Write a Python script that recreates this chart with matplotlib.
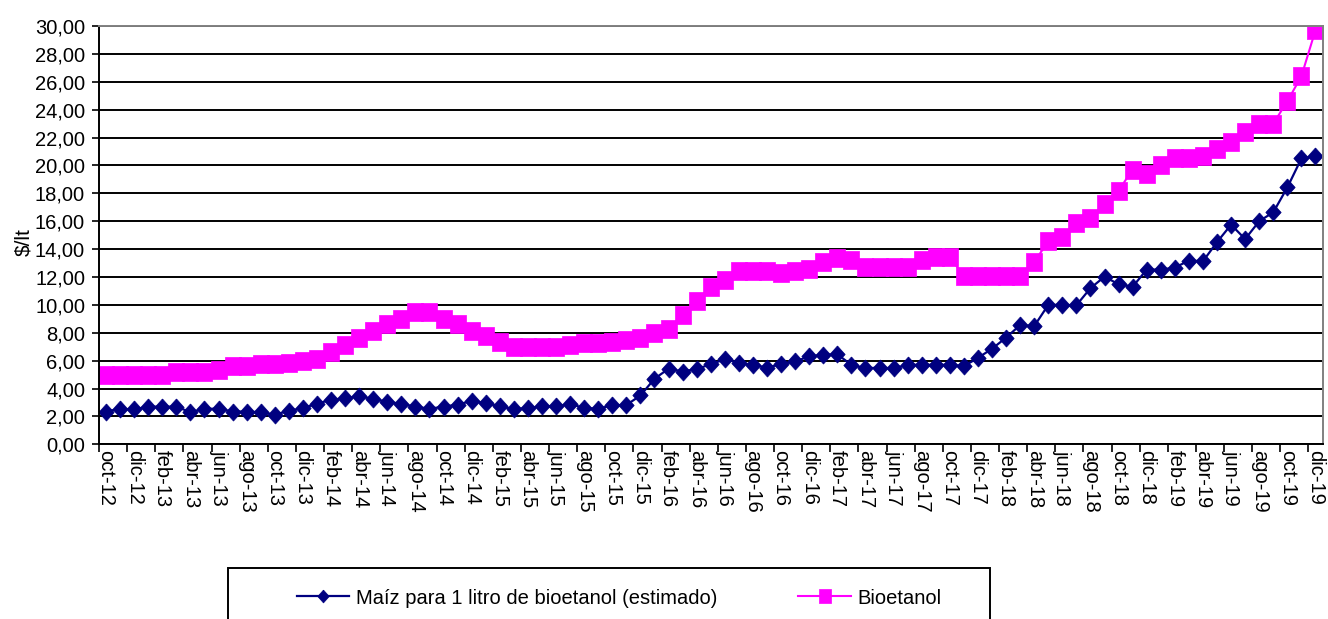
import matplotlib
matplotlib.use('Agg')
import matplotlib.pyplot as plt
from matplotlib.patches import Rectangle
from matplotlib.ticker import FuncFormatter

plt.rcParams['font.family'] = ['Liberation Sans', 'DejaVu Sans']

# Monthly categories oct-12 .. dic-19
month_names = ['ene', 'feb', 'mar', 'abr', 'may', 'jun',
               'jul', 'ago', 'sep', 'oct', 'nov', 'dic']
months = ['%s-%02d' % (month_names[(9 + i) % 12], 12 + (9 + i) // 12)
          for i in range(87)]

label_maiz = 'Maíz para 1 litro de bioetanol (estimado)'
label_bio = 'Bioetanol'

maiz = [
    2.35, 2.55, 2.50, 2.70, 2.70, 2.70, 2.30, 2.55, 2.55, 2.35,
    2.35, 2.30, 2.12, 2.40, 2.60, 2.90, 3.20, 3.30, 3.45, 3.25,
    3.05, 2.90, 2.70, 2.55, 2.70, 2.85, 3.10, 2.95, 2.72, 2.52,
    2.60, 2.72, 2.72, 2.90, 2.60, 2.55, 2.80, 2.82, 3.50, 4.70,
    5.42, 5.22, 5.40, 5.74, 6.10, 5.85, 5.70, 5.50, 5.74, 5.95,
    6.30, 6.42, 6.45, 5.70, 5.45, 5.50, 5.45, 5.70, 5.70, 5.70,
    5.70, 5.60, 6.20, 6.85, 7.65, 8.55, 8.47, 10.00, 10.00, 9.97,
    11.20, 12.02, 11.48, 11.30, 12.53, 12.53, 12.67, 13.18, 13.13, 14.50,
    15.75, 14.72, 16.00, 16.64, 18.42, 20.50, 20.66,
]

bioetanol = [
    4.95, 4.95, 4.95, 4.95, 4.95, 5.15, 5.15, 5.20, 5.30, 5.60,
    5.65, 5.75, 5.75, 5.85, 5.95, 6.10, 6.65, 7.15, 7.65, 8.15,
    8.65, 9.00, 9.50, 9.50, 9.00, 8.65, 8.15, 7.80, 7.32, 6.98,
    6.98, 6.98, 7.00, 7.15, 7.30, 7.30, 7.32, 7.45, 7.60, 7.95,
    8.25, 9.30, 10.30, 11.30, 11.78, 12.45, 12.45, 12.45, 12.25, 12.40,
    12.57, 13.10, 13.37, 13.23, 12.75, 12.75, 12.75, 12.75, 13.25, 13.40,
    13.40, 12.10, 12.10, 12.10, 12.10, 12.10, 13.08, 14.55, 14.90, 15.86,
    16.23, 17.22, 18.20, 19.70, 19.40, 20.00, 20.55, 20.55, 20.70, 21.20,
    21.70, 22.40, 23.00, 23.00, 24.60, 26.40, 29.70,
]

navy = '#000080'
magenta = '#FF00FF'

# Excel-like markers (slightly taller than wide)
diamond = [(0, 1), (0.9, 0), (0, -1), (-0.9, 0), (0, 1)]
square = [(-0.85, -1), (0.85, -1), (0.85, 1), (-0.85, 1), (-0.85, -1)]

W, H = 1328, 619
fig = plt.figure(figsize=(W / 100, H / 100), dpi=100)
ax = fig.add_axes([99 / W, (H - 444.3) / H, (1322.5 - 99) / W, (444.3 - 26) / H])

x = list(range(len(months)))
ax.plot(x, maiz, color=navy, lw=1.6, marker=diamond, ms=12.3,
        mfc=navy, mec=navy, mew=0.5, label=label_maiz)
ax.plot(x, bioetanol, color=magenta, lw=1.5, marker=square, ms=12.8,
        mfc=magenta, mec=magenta, mew=0.5, label=label_bio)

ax.set_xlim(-0.5, len(months) - 0.5)
ax.set_ylim(0, 30)

# y axis
ax.set_yticks(range(0, 31, 2))
ax.yaxis.set_major_formatter(FuncFormatter(lambda v, p: ('%.2f' % v).replace('.', ',')))
ax.yaxis.grid(True, color='black', lw=1.4)
ax.set_axisbelow(True)
ax.tick_params(axis='y', direction='out', length=5, width=1.2, pad=5, labelsize=14.5)
ax.set_ylabel('$/lt', fontsize=15)
ax.yaxis.set_label_coords(-0.054, 0.484)

# x axis: tick marks between categories, labels every 2 months
ax.set_xticks([-0.5 + 2 * k for k in range(44)])
ax.set_xticklabels([])
ax.set_xticks(x[::2], minor=True)
ax.set_xticklabels(months[::2], minor=True, rotation=-90)
ax.tick_params(axis='x', which='major', direction='out', length=6, width=1.2)
ax.tick_params(axis='x', which='minor', length=0, pad=4, labelsize=14.5)

for side in ('left', 'bottom'):
    ax.spines[side].set_color('black')
    ax.spines[side].set_linewidth(1.4)
for side in ('top', 'right'):
    ax.spines[side].set_color('#808080')
    ax.spines[side].set_linewidth(1.4)

# Legend box, cut by the bottom of the picture
fig.add_artist(Rectangle((228 / W, -0.05), (990 - 228) / W, (H - 568) / H + 0.05,
                         transform=fig.transFigure, fill=False,
                         edgecolor='black', lw=1.4))
ax.legend(loc='center left', bbox_to_anchor=(297 / W, 1 - 598 / H),
          bbox_transform=fig.transFigure, ncol=2, frameon=False,
          fontsize=14.5, handlelength=2.6, handletextpad=0.35,
          columnspacing=4.0, borderpad=0, borderaxespad=0,
          numpoints=1, markerscale=0.75)

fig.savefig('out.png', dpi=100)
